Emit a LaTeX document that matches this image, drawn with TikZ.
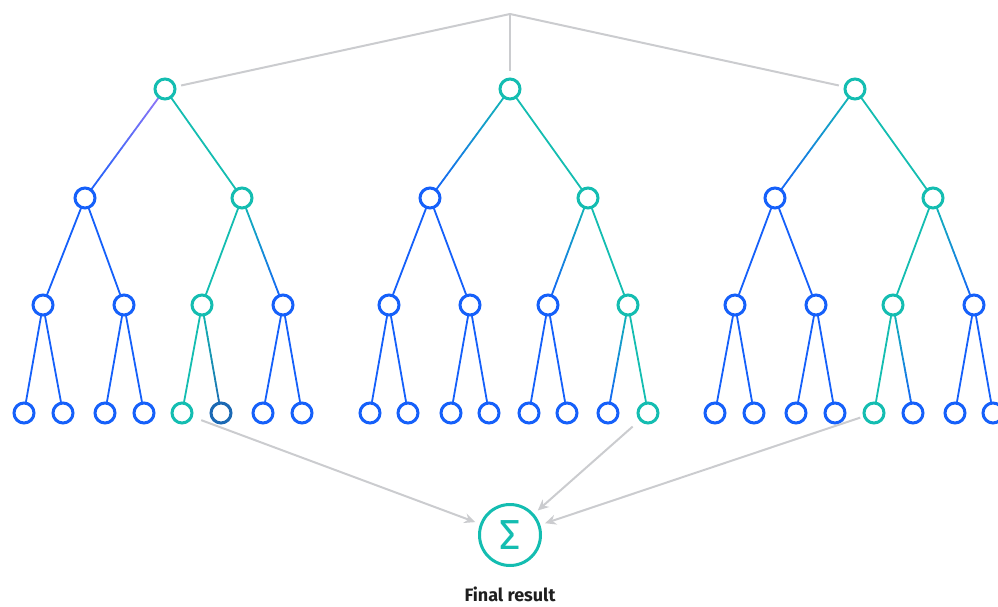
\documentclass[tikz,border=0pt]{standalone}
\usepackage{fontspec}
\setmainfont{Fira Sans}
\usetikzlibrary{calc,arrows.meta}
\definecolor{tealc}{HTML}{14BDB1}
\definecolor{bluec}{HTML}{1560FA}
\definecolor{purplec}{HTML}{9A78F5}
\definecolor{darkc}{HTML}{1B69B4}
\definecolor{grayc}{HTML}{CBCCCF}
\pgfdeclarelayer{bg}
\pgfsetlayers{bg,main}
\tikzset{
  tn/.style={circle,draw=#1,line width=3pt,fill=white,minimum size=20pt,inner sep=0pt},
  edge/.style={line width=1.8pt,line cap=round},
  grayline/.style={grayc,line width=2pt},
  grayarrow/.style={grayc,line width=2pt,-{Stealth[length=11pt,width=10pt]}},
}
\newcommand\gedge[4]{%
  \foreach \i in {0,...,23}{%
    \pgfmathsetmacro\pa{\i/24}%
    \pgfmathsetmacro\pb{(\i+1)/24}%
    \pgfmathtruncatemacro\pc{100-100*(\i+0.5)/24}%
    \draw[edge,color={#3!\pc!#4}] ($(#1)!\pa!(#2)$) -- ($(#1)!\pb!(#2)$);
  }%
}
\newcommand\sedge[3]{\draw[edge,#3] (#1) -- (#2);}
\begin{document}
\begin{tikzpicture}[x=1pt,y=-1pt]
\useasboundingbox (0,0) rectangle (998,607);
% tree 1
\node[tn=tealc] (r1) at (165,89) {};
\node[tn=bluec] (a1) at (85,198) {};
\node[tn=tealc] (b1) at (242,198) {};
\node[tn=bluec] (aa1) at (43,305) {};
\node[tn=bluec] (ab1) at (124,305) {};
\node[tn=tealc] (ba1) at (202,305) {};
\node[tn=bluec] (bb1) at (283,305) {};
\node[tn=bluec] (aaa1) at (24,413) {};
\node[tn=bluec] (aab1) at (63,413) {};
\node[tn=bluec] (aba1) at (105,413) {};
\node[tn=bluec] (abb1) at (144,413) {};
\node[tn=tealc] (baa1) at (182,413) {};
\node[tn=darkc] (bab1) at (221,413) {};
\node[tn=bluec] (bba1) at (263,413) {};
\node[tn=bluec] (bbb1) at (302,413) {};
% tree 2
\node[tn=tealc] (r2) at (510,89) {};
\node[tn=bluec] (a2) at (430,198) {};
\node[tn=tealc] (b2) at (588,198) {};
\node[tn=bluec] (aa2) at (389,305) {};
\node[tn=bluec] (ab2) at (470,305) {};
\node[tn=bluec] (ba2) at (548,305) {};
\node[tn=tealc] (bb2) at (628,305) {};
\node[tn=bluec] (aaa2) at (370,413) {};
\node[tn=bluec] (aab2) at (408,413) {};
\node[tn=bluec] (aba2) at (451,413) {};
\node[tn=bluec] (abb2) at (489,413) {};
\node[tn=bluec] (baa2) at (529,413) {};
\node[tn=bluec] (bab2) at (567,413) {};
\node[tn=bluec] (bba2) at (608,413) {};
\node[tn=tealc] (bbb2) at (648,413) {};
% tree 3
\node[tn=tealc] (r3) at (855,89) {};
\node[tn=bluec] (a3) at (775,198) {};
\node[tn=tealc] (b3) at (933,198) {};
\node[tn=bluec] (aa3) at (735,305) {};
\node[tn=bluec] (ab3) at (816,305) {};
\node[tn=tealc] (ba3) at (893,305) {};
\node[tn=bluec] (bb3) at (974,305) {};
\node[tn=bluec] (aaa3) at (715,413) {};
\node[tn=bluec] (aab3) at (754,413) {};
\node[tn=bluec] (aba3) at (796,413) {};
\node[tn=bluec] (abb3) at (835,413) {};
\node[tn=tealc] (baa3) at (874,413) {};
\node[tn=bluec] (bab3) at (913,413) {};
\node[tn=bluec] (bba3) at (955,413) {};
\node[tn=bluec] (bbb3) at (993,413) {};
% sum
\node[circle,draw=tealc,line width=3pt,minimum size=61pt,inner sep=0pt,fill=white,text=tealc,font=\fontsize{42}{42}\selectfont] (sum) at (510,535) {Σ};
\node[font=\fontsize{18}{18}\selectfont\bfseries,text=black!88,inner sep=0pt] (lbl) at (510,594) {Final result};
\coordinate (top) at (510,14);
\begin{pgfonlayer}{bg}
% tree 1 edges
\gedge{r1}{a1}{purplec}{bluec}
\sedge{r1}{b1}{tealc}
\foreach \p/\c in {a1/aa1,a1/ab1,aa1/aaa1,aa1/aab1,ab1/aba1,ab1/abb1,bb1/bba1,bb1/bbb1}{\sedge{\p}{\c}{bluec}}
\sedge{b1}{ba1}{tealc}
\gedge{b1}{bb1}{tealc}{bluec}
\sedge{ba1}{baa1}{tealc}
\gedge{ba1}{bab1}{tealc}{darkc}
% tree 2 edges
\gedge{r2}{a2}{tealc}{bluec}
\sedge{r2}{b2}{tealc}
\foreach \p/\c in {a2/aa2,a2/ab2,aa2/aaa2,aa2/aab2,ab2/aba2,ab2/abb2,ba2/baa2,ba2/bab2}{\sedge{\p}{\c}{bluec}}
\gedge{b2}{ba2}{tealc}{bluec}
\sedge{b2}{bb2}{tealc}
\gedge{bb2}{bba2}{tealc}{bluec}
\sedge{bb2}{bbb2}{tealc}
% tree 3 edges
\gedge{r3}{a3}{tealc}{bluec}
\sedge{r3}{b3}{tealc}
\foreach \p/\c in {a3/aa3,a3/ab3,aa3/aaa3,aa3/aab3,ab3/aba3,ab3/abb3,bb3/bba3,bb3/bbb3}{\sedge{\p}{\c}{bluec}}
\sedge{b3}{ba3}{tealc}
\gedge{b3}{bb3}{tealc}{bluec}
\sedge{ba3}{baa3}{tealc}
\gedge{ba3}{bab3}{tealc}{bluec}
\end{pgfonlayer}
% gray lines
\draw[grayline,shorten >=5pt] (top) -- (r1);
\draw[grayline,shorten >=5pt] (top) -- (r3);
\draw[grayline,shorten >=6pt] (top) -- (r2);
\draw[grayarrow,shorten <=9pt,shorten >=5pt] (baa1) -- (sum);
\draw[grayarrow,shorten <=9pt,shorten >=5pt] (bbb2) -- (sum);
\draw[grayarrow,shorten <=3pt,shorten >=5pt] (baa3) -- (sum);
\end{tikzpicture}
\end{document}
